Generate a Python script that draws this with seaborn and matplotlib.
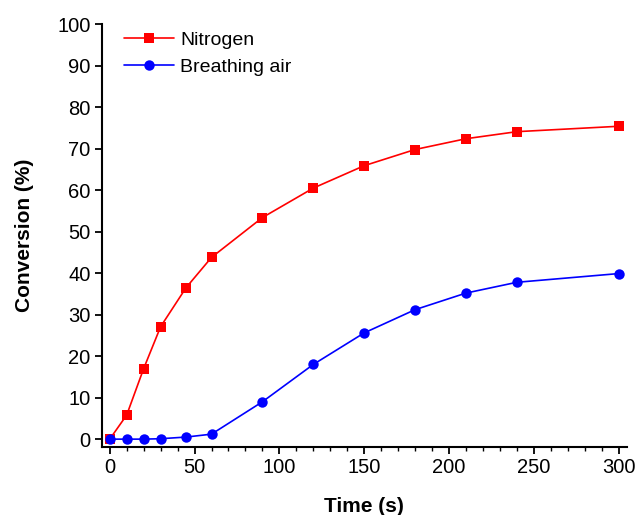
import matplotlib
matplotlib.use("Agg")
import matplotlib.pyplot as plt
import seaborn as sns
import pandas as pd
from matplotlib.ticker import MultipleLocator

time_s = [0, 10, 20, 30, 45, 60, 90, 120, 150, 180, 210, 240, 300]
nitrogen = [0, 5.8, 17.0, 27.1, 36.5, 43.8, 53.4, 60.5, 65.9, 69.8, 72.4, 74.1, 75.4]
breathing_air = [0, 0.0, 0.0, 0.1, 0.5, 1.2, 9.0, 18.0, 25.6, 31.2, 35.2, 37.8, 39.9]
series_names = ["Nitrogen", "Breathing air"]

df = pd.DataFrame({
    "Time": time_s * 2,
    "Conversion": nitrogen + breathing_air,
    "Series": [series_names[0]] * len(time_s) + [series_names[1]] * len(time_s),
})

sns.set_theme(style="ticks")
plt.rcParams["font.family"] = ["Liberation Sans", "DejaVu Sans"]
plt.rcParams["text.color"] = "black"
plt.rcParams["axes.labelcolor"] = "black"

fig = plt.figure(figsize=(6.36, 5.15), dpi=100)
ax = fig.add_axes([0.160, 0.132, 0.826, 0.821])

sns.lineplot(
    data=df, x="Time", y="Conversion", hue="Series", style="Series",
    palette={"Nitrogen": "#FF0000", "Breathing air": "#0000FF"},
    markers={"Nitrogen": "s", "Breathing air": "o"},
    dashes=False, markersize=7.5, markeredgewidth=0, linewidth=1.2,
    ax=ax,
)

ax.set_xlim(-4.7, 305)
ax.set_ylim(-1.9, 100)
ax.xaxis.set_major_locator(MultipleLocator(50))
ax.xaxis.set_minor_locator(MultipleLocator(10))
ax.yaxis.set_major_locator(MultipleLocator(10))

for s in ["top", "right"]:
    ax.spines[s].set_visible(False)
for s in ["left", "bottom"]:
    ax.spines[s].set_linewidth(1.5)
    ax.spines[s].set_color("black")

ax.tick_params(axis="both", which="major", direction="out", length=5, width=1.3,
               labelsize=14.5, colors="black", labelcolor="black", pad=3)
ax.tick_params(axis="x", which="minor", direction="out", length=3, width=1.0, colors="black")

ax.set_xlabel("Time (s)", fontsize=15, fontweight="bold", labelpad=14, color="black")
ax.set_ylabel("Conversion (%)", fontsize=15, fontweight="bold", labelpad=17, color="black")

leg = ax.legend(loc="upper left", bbox_to_anchor=(0.02, 1.01), frameon=False,
                fontsize=14, handlelength=2.6, handletextpad=0.3, labelspacing=0.45,
                borderaxespad=0.2)
for t in leg.get_texts():
    t.set_color("black")

fig.savefig("out.png", dpi=100)
